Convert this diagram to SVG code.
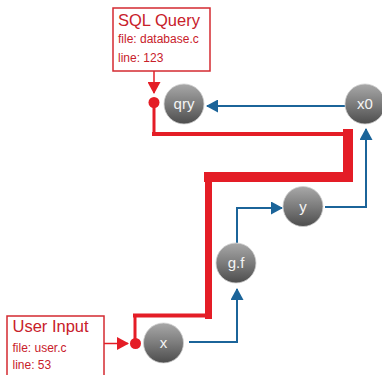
<svg xmlns="http://www.w3.org/2000/svg" width="382" height="375" viewBox="0 0 382 375">
<style>
.box{fill:#fff;stroke:#d42a30;stroke-width:1.5}
.t1{font-family:"Liberation Sans",Arial,sans-serif;font-size:16.5px;fill:#c8202a}
.t2{font-family:"Liberation Sans",Arial,sans-serif;font-size:12px;fill:#c8202a}
.node{fill:url(#g);stroke:#d0d0d0;stroke-width:0.8}
.nt{font-family:"Liberation Sans",Arial,sans-serif;font-size:15px;fill:#f4f4f4;text-anchor:middle}
.blue{fill:none;stroke:#1b6499;stroke-width:2;marker-end:url(#ab)}
.red{fill:none;stroke:#e41d26;stroke-linecap:square}
.rdot{fill:#e41d26}
</style>
<defs>
<linearGradient id="g" x1="0" y1="0" x2="0" y2="1">
<stop offset="0" stop-color="#a8a8a8"/>
<stop offset="0.5" stop-color="#7c7c7c"/>
<stop offset="1" stop-color="#4d4d4d"/>
</linearGradient>
<marker id="ab" markerUnits="userSpaceOnUse" markerWidth="12" markerHeight="13" refX="11" refY="6.5" orient="auto">
<path d="M0,0 L12,6.5 L0,13 z" fill="#1b6499"/>
</marker>
<marker id="ar" markerUnits="userSpaceOnUse" markerWidth="12" markerHeight="13" refX="11" refY="6.5" orient="auto">
<path d="M0,0 L12,6.5 L0,13 z" fill="#e41d26"/>
</marker>
</defs>
<g id="connectors">
<path class="blue" d="M346,106 L207,106"/>
<path class="blue" d="M189,342 L237,342 L237,289"/>
<path class="blue" d="M237,243 L237,208 L282,208"/>
<path class="blue" d="M325,207 L366,207 L366,129"/>
<path d="M154,71 L154,93" fill="none" stroke="#e41d26" stroke-width="1.5" marker-end="url(#ar)"/>
<path d="M104,343.5 L128,343.5" fill="none" stroke="#e41d26" stroke-width="1.5" marker-end="url(#ar)"/>
<g id="taint-path">
<path class="red" stroke-width="3" d="M154,103 L154,134"/>
<path class="red" stroke-width="4" d="M154,134 L348,134"/>
<path class="red" stroke-width="10" d="M348,134 L348,177"/>
<path class="red" stroke-width="10" d="M348,177 L209,177"/>
<path class="red" stroke-width="7" d="M208.5,177 L208.5,315.5"/>
<path class="red" stroke-width="4" d="M208.5,315.5 L135,315.5"/>
<path class="red" stroke-width="3" d="M135,315.5 L135,343"/>
</g>
<circle class="rdot" cx="154" cy="102.5" r="5.5"/>
<circle class="rdot" cx="135.5" cy="343.5" r="5.5"/>
</g>
<g id="sql-query">
<rect class="box" x="113" y="8" width="97" height="63"/>
<text class="t1" x="118" y="25.7">SQL Query</text>
<text class="t2" x="118" y="43.3">file: database.c</text>
<text class="t2" x="118" y="61.7">line: 123</text>
</g>
<g id="user-input">
<rect class="box" x="7" y="316" width="97" height="63"/>
<text class="t1" x="12.5" y="332.3">User Input</text>
<text class="t2" x="12.5" y="351.7">file: user.c</text>
<text class="t2" x="12.5" y="369.3">line: 53</text>
</g>
<g id="qry"><circle class="node" cx="184" cy="104" r="20"/><text class="nt" x="184" y="109">qry</text></g>
<g id="x0"><circle class="node" cx="365" cy="104" r="20"/><text class="nt" x="365" y="109">x0</text></g>
<g id="y"><circle class="node" cx="303" cy="206.5" r="20"/><text class="nt" x="303" y="211.5">y</text></g>
<g id="gf"><circle class="node" cx="236" cy="263" r="20"/><text class="nt" x="236" y="268">g.f</text></g>
<g id="x"><circle class="node" cx="163.5" cy="343" r="20"/><text class="nt" x="163.5" y="348">x</text></g>
</svg>
